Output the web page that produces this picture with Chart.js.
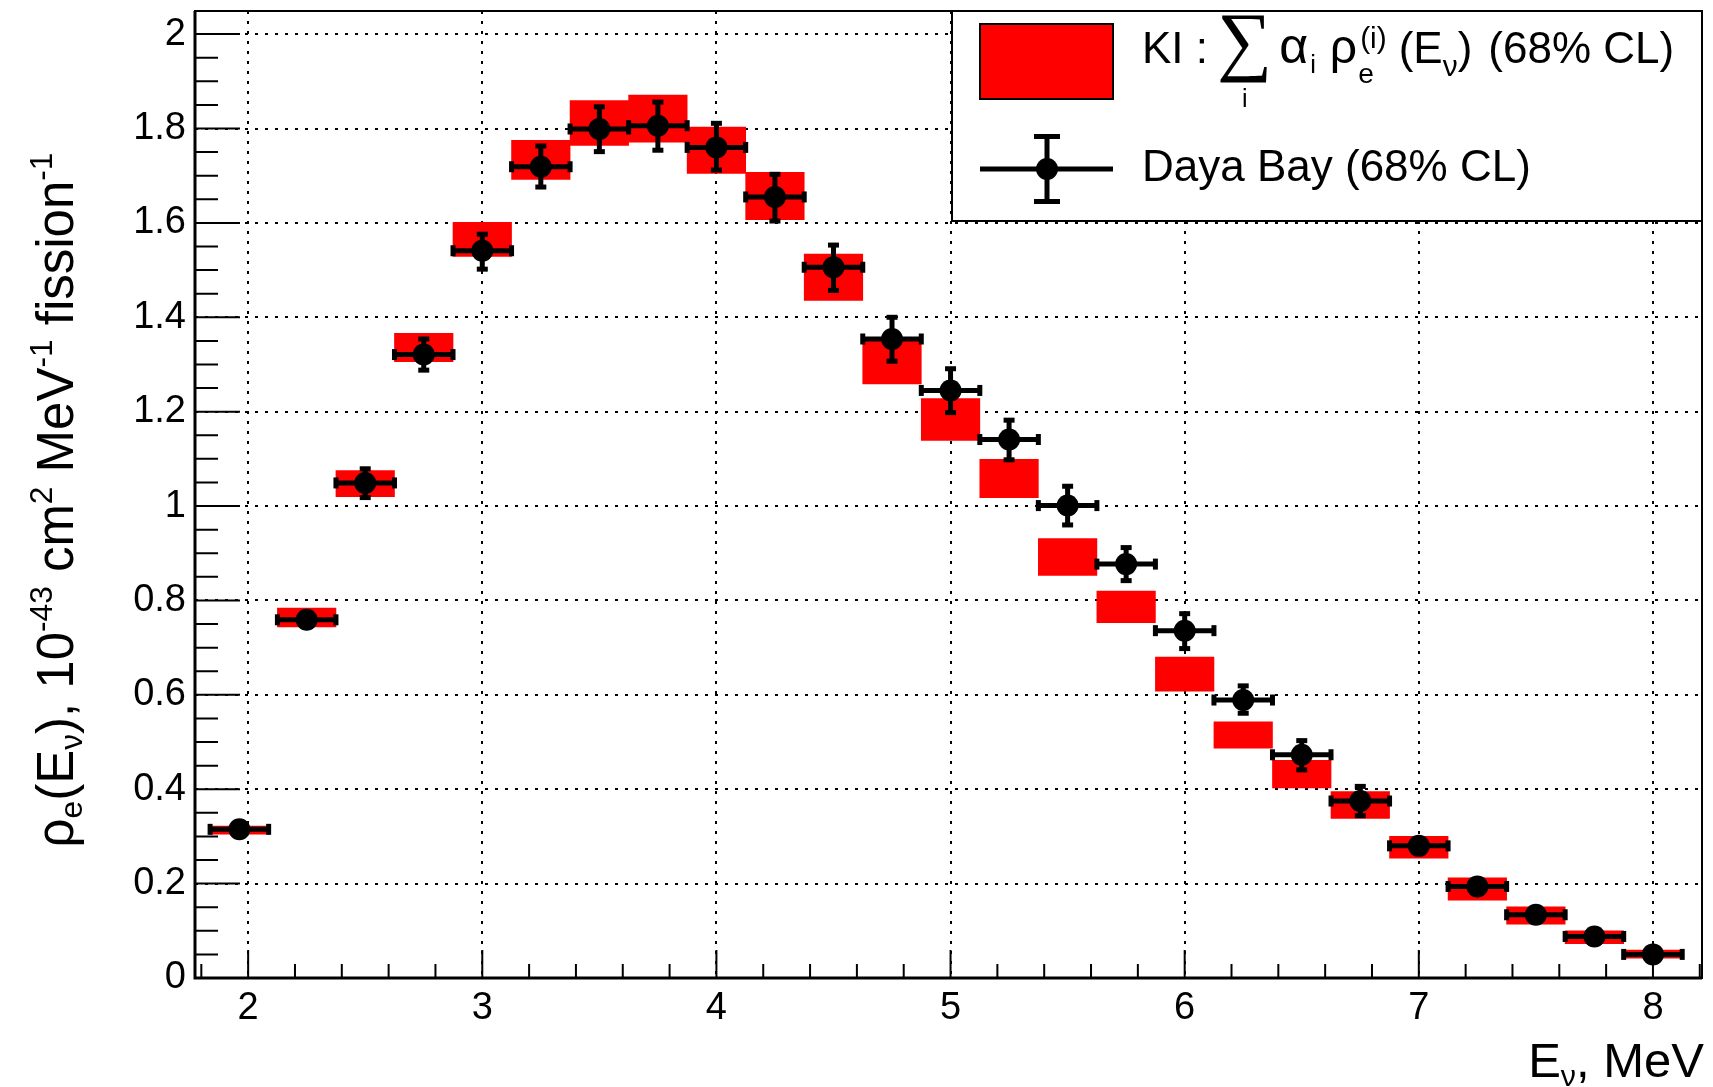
<!DOCTYPE html>
<html>
<head>
<meta charset="utf-8">
<title>Antineutrino spectrum: KI vs Daya Bay</title>
<script src="https://cdn.jsdelivr.net/npm/chart.js@4/dist/chart.umd.min.js"></script>
<style>
  html, body { margin: 0; padding: 0; background: #ffffff; }
  #wrap { width: 1713px; height: 1087px; position: relative; }
  canvas { display: block; }
</style>
</head>
<body>
<div id="wrap"><canvas id="spectrum" width="1713" height="1087"></canvas></div>
<script>
// Bin centres of the neutrino energy, MeV
const energy = [1.9625, 2.25, 2.5, 2.75, 3.0, 3.25, 3.5, 3.75, 4.0, 4.25, 4.5, 4.75,
                5.0, 5.25, 5.5, 5.75, 6.0, 6.25, 6.5, 6.75, 7.0, 7.25, 7.5, 7.75, 8.0];
const binHalfWidth = 0.125;

// Daya Bay unfolded spectrum, 1e-43 cm^2 MeV^-1 fission^-1, with 68% CL bounds
const dayaBay     = [0.315, 0.759, 1.049, 1.321, 1.541, 1.719, 1.799, 1.806, 1.760, 1.655, 1.506, 1.354,
                     1.245, 1.141, 1.001, 0.877, 0.736, 0.589, 0.473, 0.375, 0.280, 0.194, 0.134, 0.088, 0.050];
const dayaBayLow  = [0.307, 0.745, 1.018, 1.288, 1.502, 1.676, 1.751, 1.754, 1.712, 1.604, 1.457, 1.307,
                     1.198, 1.098, 0.960, 0.842, 0.698, 0.561, 0.441, 0.344, 0.265, 0.182, 0.124, 0.080, 0.044];
const dayaBayHigh = [0.323, 0.773, 1.079, 1.354, 1.576, 1.763, 1.846, 1.856, 1.811, 1.703, 1.553, 1.400,
                     1.291, 1.182, 1.042, 0.912, 0.772, 0.619, 0.503, 0.406, 0.295, 0.206, 0.144, 0.096, 0.056];

// KI model: sum over isotopes, 68% CL band per bin
const kiLow  = [0.305, 0.744, 1.020, 1.306, 1.529, 1.692, 1.764, 1.771, 1.705, 1.607, 1.436, 1.259,
                1.139, 1.018, 0.853, 0.753, 0.608, 0.487, 0.403, 0.338, 0.254, 0.165, 0.114, 0.073, 0.042];
const kiHigh = [0.322, 0.784, 1.075, 1.366, 1.601, 1.775, 1.859, 1.871, 1.803, 1.707, 1.534, 1.349,
                1.228, 1.099, 0.931, 0.820, 0.680, 0.543, 0.461, 0.395, 0.300, 0.212, 0.151, 0.100, 0.059];

// Axis ranges and tick steps
const xRange = [1.773, 8.2095];
const yRange = [0, 2.049];
const xMajorStep = 1, xMinorStep = 0.2;
const yMajorStep = 0.2, yMinorStep = 0.05;

const SANS = '"Liberation Sans", Arial, Helvetica, sans-serif';
const SERIF = '"Liberation Serif", "Times New Roman", serif';

// Draws a sequence of [text, sizeFactor, baselineShiftFactor] runs; returns the width
function drawRuns(ctx, runs, x, y, base, measureOnly) {
  let cx = x;
  for (const [t, s, dy] of runs) {
    ctx.font = (base * s) + 'px ' + SANS;
    if (!measureOnly) ctx.fillText(t, cx, y + dy * base);
    cx += ctx.measureText(t).width;
  }
  return cx - x;
}

const SUB = 0.62, SUBDY = 0.18, SUPDY = -0.42;
const BAR_W = 5, CAP = 11;

// ROOT-style frame with ticks pointing into the plot
const frameAndTicks = {
  id: 'frameAndTicks',
  afterDatasetsDraw(chart) {
    const { ctx, chartArea: a, scales: { x, y } } = chart;
    ctx.save();
    ctx.strokeStyle = '#000';
    ctx.lineWidth = 2;
    ctx.beginPath();
    for (let k = Math.ceil(y.min / yMinorStep - 1e-9); k * yMinorStep <= y.max + 1e-9; k++) {
      const v = k * yMinorStep;
      const r = v / yMajorStep;
      const major = Math.abs(r - Math.round(r)) < 1e-6;
      const py = y.getPixelForValue(v);
      ctx.moveTo(a.left, py);
      ctx.lineTo(a.left + (major ? 45 : 23), py);
    }
    for (let k = Math.ceil(x.min / xMinorStep - 1e-9); k * xMinorStep <= x.max + 1e-9; k++) {
      const v = k * xMinorStep;
      const r = v / xMajorStep;
      const major = Math.abs(r - Math.round(r)) < 1e-6;
      const px = x.getPixelForValue(v);
      ctx.moveTo(px, a.bottom);
      ctx.lineTo(px, a.bottom - (major ? 28 : 14));
    }
    ctx.stroke();

    ctx.lineWidth = 2;
    ctx.strokeRect(a.left, a.top, a.right - a.left, a.bottom - a.top);
    ctx.lineWidth = 3;
    ctx.beginPath();
    ctx.moveTo(a.left, a.top);
    ctx.lineTo(a.left, a.bottom);
    ctx.lineTo(a.right, a.bottom);
    ctx.stroke();
    ctx.restore();
  }
};

// Horizontal (bin width) and vertical (68% CL) error bars of the Daya Bay points
const errorBars = {
  id: 'errorBars',
  afterDatasetsDraw(chart) {
    const { ctx, scales: { x, y } } = chart;
    ctx.save();
    ctx.strokeStyle = '#000';
    ctx.fillStyle = '#000';
    ctx.lineWidth = BAR_W;
    energy.forEach((e, i) => {
      const px = x.getPixelForValue(e);
      const py = y.getPixelForValue(dayaBay[i]);
      const x0 = x.getPixelForValue(e - binHalfWidth);
      const x1 = x.getPixelForValue(e + binHalfWidth);
      const y0 = y.getPixelForValue(dayaBayLow[i]);
      const y1 = y.getPixelForValue(dayaBayHigh[i]);
      ctx.beginPath();
      ctx.moveTo(x0, py); ctx.lineTo(x1, py);
      ctx.moveTo(px, y0); ctx.lineTo(px, y1);
      ctx.stroke();
      ctx.fillRect(x0 - BAR_W / 2, py - CAP / 2, BAR_W, CAP);
      ctx.fillRect(x1 - BAR_W / 2, py - CAP / 2, BAR_W, CAP);
      ctx.fillRect(px - CAP / 2, y0 - BAR_W / 2, CAP, BAR_W);
      ctx.fillRect(px - CAP / 2, y1 - BAR_W / 2, CAP, BAR_W);
    });
    ctx.restore();
  }
};

// Legend box and the axis titles
const annotations = {
  id: 'annotations',
  afterDraw(chart) {
    const { ctx, chartArea: a } = chart;
    ctx.save();
    ctx.fillStyle = '#000';
    ctx.textBaseline = 'alphabetic';
    ctx.textAlign = 'left';

    // x-axis title, right aligned to the frame
    const xt = [['E', 1, 0], ['\u03bd', SUB, SUBDY], [', MeV', 1, 0]];
    const xf = 49;
    const xw = drawRuns(ctx, xt, 0, 0, xf, true);
    drawRuns(ctx, xt, a.right + 2 - xw, 1077, xf, false);

    // y-axis title, rotated
    const yt = [['\u03c1', 1, 0], ['e', SUB, SUBDY], ['(E', 1, 0], ['\u03bd', SUB, SUBDY],
                ['), 10', 1, 0], ['-43', SUB, SUPDY], [' cm', 1, 0], ['2', SUB, SUPDY],
                [' MeV', 1, 0], ['-1', SUB, SUPDY], [' fission', 1, 0], ['-1', SUB, SUPDY]];
    const yf = 51;
    const yw = drawRuns(ctx, yt, 0, 0, yf, true);
    ctx.save();
    ctx.translate(73, 500);
    ctx.rotate(-Math.PI / 2);
    drawRuns(ctx, yt, -yw / 2, 0, yf, false);
    ctx.restore();

    // legend frame
    const L = { left: 952, top: a.top, right: a.right, bottom: 221 };
    ctx.fillStyle = '#fff';
    ctx.fillRect(L.left, L.top, L.right - L.left, L.bottom - L.top);
    ctx.strokeStyle = '#000';
    ctx.lineWidth = 2;
    ctx.strokeRect(L.left, L.top, L.right - L.left, L.bottom - L.top);

    // entry 1: filled red box
    ctx.fillStyle = '#ff0000';
    ctx.fillRect(980, 24, 133, 75);
    ctx.strokeRect(980, 24, 133, 75);

    // entry 2: marker with error bars
    ctx.fillStyle = '#000';
    ctx.lineWidth = BAR_W;
    ctx.beginPath();
    ctx.moveTo(980, 169); ctx.lineTo(1113, 169);
    ctx.moveTo(1047, 136); ctx.lineTo(1047, 201);
    ctx.stroke();
    ctx.fillRect(1034, 134, 26, BAR_W);
    ctx.fillRect(1034, 199, 26, BAR_W);
    ctx.beginPath();
    ctx.arc(1047, 169, 11, 0, Math.PI * 2);
    ctx.fill();

    // entry 1 text: KI : sum_i alpha_i rho_e^(i) (E_nu) (68% CL)
    const F = 44;
    const base1 = 63;
    let cx = 1142;
    cx += drawRuns(ctx, [['KI : ', 1, 0]], cx, base1, F, false);
    // summation sign scaled to its glyph height
    ctx.font = '100px ' + SERIF;
    let m = ctx.measureText('\u2211');
    const gh = m.actualBoundingBoxAscent + m.actualBoundingBoxDescent;
    const sumSize = 100 * 68 / gh;
    ctx.font = sumSize + 'px ' + SERIF;
    m = ctx.measureText('\u2211');
    const sumW = m.actualBoundingBoxLeft + m.actualBoundingBoxRight;
    ctx.fillText('\u2211', cx + m.actualBoundingBoxLeft, 15 + m.actualBoundingBoxAscent);
    ctx.font = '25px ' + SANS;
    const iw = ctx.measureText('i').width;
    ctx.fillText('i', cx + sumW / 2 - iw / 2 + 1, 107);
    cx += sumW + 12;
    // alpha_i
    ctx.font = '50px ' + SANS;
    ctx.fillText('\u03b1', cx, base1);
    cx += ctx.measureText('\u03b1').width + 2;
    cx += drawRuns(ctx, [['i', 0.58, 0.22]], cx, base1, F, false) + 14;
    // rho_e^(i)
    ctx.font = '48px ' + SANS;
    ctx.fillText('\u03c1', cx, base1);
    cx += ctx.measureText('\u03c1').width;
    const we = drawRuns(ctx, [['e', 0.64, 0.45]], cx + 1, base1, F, false);
    const wi = drawRuns(ctx, [['(i)', 0.68, -0.33]], cx + 3, base1, F, false);
    cx += Math.max(we + 1, wi + 3) + 12;
    // (E_nu) (68% CL)
    cx += drawRuns(ctx, [['(E', 1, 0], ['\u03bd', 0.68, 0.3], [')', 1, 0]], cx, base1, F, false);
    drawRuns(ctx, [['(68% CL)', 1, 0]], cx + 16, base1, F, false);

    // entry 2 text
    drawRuns(ctx, [['Daya Bay (68% CL)', 1, 0]], 1142, 181, F, false);
    ctx.restore();
  }
};

const tickFont = { family: SANS, size: 38 };
const fmt = v => String(Number(v.toFixed(2)));

new Chart(document.getElementById('spectrum'), {
  type: 'scatter',
  data: {
    datasets: [
      {
        type: 'bar',
        label: 'KI (68% CL)',
        data: energy.map((e, i) => ({ x: e, y: [kiLow[i], kiHigh[i]] })),
        backgroundColor: '#ff0000',
        borderWidth: 0,
        categoryPercentage: 1.0,
        barPercentage: 1.0,
        order: 2
      },
      {
        type: 'scatter',
        label: 'Daya Bay (68% CL)',
        data: energy.map((e, i) => ({ x: e, y: dayaBay[i] })),
        pointRadius: 11,
        pointHoverRadius: 11,
        pointBorderWidth: 0,
        pointBackgroundColor: '#000',
        showLine: false,
        order: 1
      }
    ]
  },
  options: {
    responsive: false,
    animation: false,
    devicePixelRatio: 1,
    events: [],
    layout: { padding: { left: 0, right: 7, top: 10, bottom: 0 } },
    plugins: { legend: { display: false }, tooltip: { enabled: false }, title: { display: false } },
    scales: {
      x: {
        type: 'linear',
        min: xRange[0],
        max: xRange[1],
        offset: false,
        afterFit(s) { s.height = 109; s.paddingLeft = 0; s.paddingRight = 0; },
        ticks: { stepSize: xMajorStep, includeBounds: false, autoSkip: false, maxRotation: 0,
                 padding: 8, color: '#000', font: tickFont, callback: fmt },
        grid: { color: '#000', lineWidth: 2, drawTicks: false, offset: false },
        border: { display: false, dash: [3, 7] }
      },
      y: {
        type: 'linear',
        min: yRange[0],
        max: yRange[1],
        afterFit(s) { s.width = 195; s.paddingTop = 0; s.paddingBottom = 0; },
        ticks: { stepSize: yMajorStep, includeBounds: false, autoSkip: false,
                 padding: 9, color: '#000', font: tickFont, callback: fmt },
        grid: { color: '#000', lineWidth: 2, drawTicks: false },
        border: { display: false, dash: [3, 7] }
      }
    }
  },
  plugins: [frameAndTicks, errorBars, annotations]
});
</script>
</body>
</html>
